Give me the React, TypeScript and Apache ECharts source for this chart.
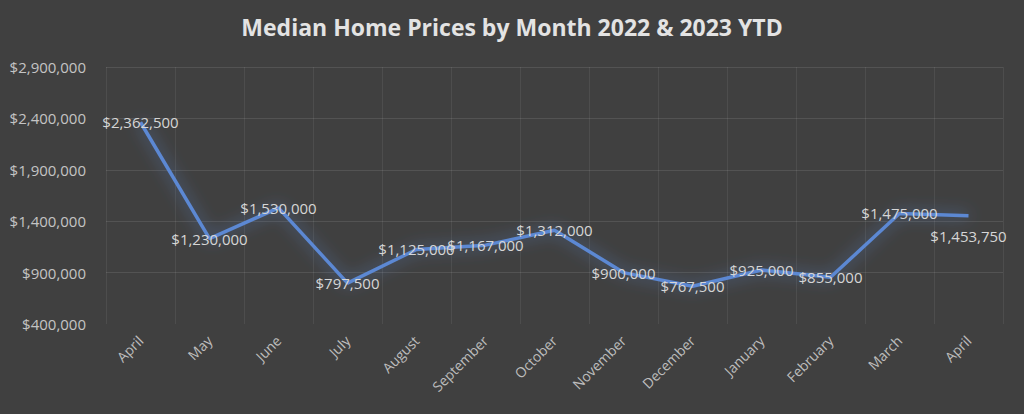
import React, { useEffect, useRef } from "react";
import * as echarts from "echarts";

const months = ["April", "May", "June", "July", "August", "September", "October", "November", "December", "January", "February", "March", "April"];
const prices = [2362500, 1230000, 1530000, 797500, 1125000, 1167000, 1312000, 900000, 767500, 925000, 855000, 1475000, 1453750];
const yTicks = { min: 400000, max: 2900000, interval: 500000 };

const fmt = (v: number) => "$" + Math.round(v).toLocaleString("en-US");

export default function App() {
  const ref = useRef<HTMLDivElement>(null);
  useEffect(() => {
    if (!ref.current) return;
    const chart = echarts.init(ref.current, null, { renderer: "svg" });
    const font = "'Open Sans', 'Noto Sans', sans-serif";
    chart.setOption({
      animation: false,
      backgroundColor: "#404040",
      textStyle: { fontFamily: font },
      title: {
        text: "Median Home Prices by Month 2022 & 2023 YTD",
        left: "center",
        top: 10,
        textStyle: { color: "#e3e3e3", fontSize: 23, fontWeight: "bold", fontFamily: font },
      },
      grid: { left: 106, right: 21, top: 67, bottom: 90, containLabel: false },
      xAxis: {
        type: "category",
        data: months,
        boundaryGap: true,
        axisLine: { show: false },
        axisTick: { show: false },
        axisLabel: { color: "#bdbdbd", fontSize: 14, rotate: 45, margin: 14, interval: 0 },
        splitLine: { show: true, interval: 0, lineStyle: { color: "rgba(255,255,255,0.07)", width: 1 } },
      },
      yAxis: {
        type: "value",
        min: yTicks.min,
        max: yTicks.max,
        interval: yTicks.interval,
        axisLine: { show: false },
        axisTick: { show: false },
        axisLabel: { color: "#c4c4c4", fontSize: 15, formatter: fmt, margin: 20 },
        splitLine: { showMinLine: false, lineStyle: { color: "rgba(255,255,255,0.1)", width: 1 } },
      },
      series: [
        {
          type: "line",
          data: prices.map((v, i) =>
            i === prices.length - 1
              ? { value: v, label: { position: "bottom", distance: 12 } }
              : v
          ),
          symbol: "circle",
          symbolSize: 2,
          showSymbol: true,
          itemStyle: { color: "rgba(0,0,0,0)" },
          lineStyle: {
            color: "#5b88d3",
            width: 3.5,
            shadowColor: "rgba(91,136,211,0.75)",
            shadowBlur: 16,
          },
          label: {
            show: true,
            position: "inside",
            color: "#d6d6d6",
            fontSize: 15,
            formatter: (p: any) => fmt(p.value),
          },
          labelLayout: { hideOverlap: false },
        },
      ],
    });
    return () => chart.dispose();
  }, []);
  return <div ref={ref} style={{ width: 1024, height: 414, position: "absolute", left: 0, top: 0 }} />;
}
